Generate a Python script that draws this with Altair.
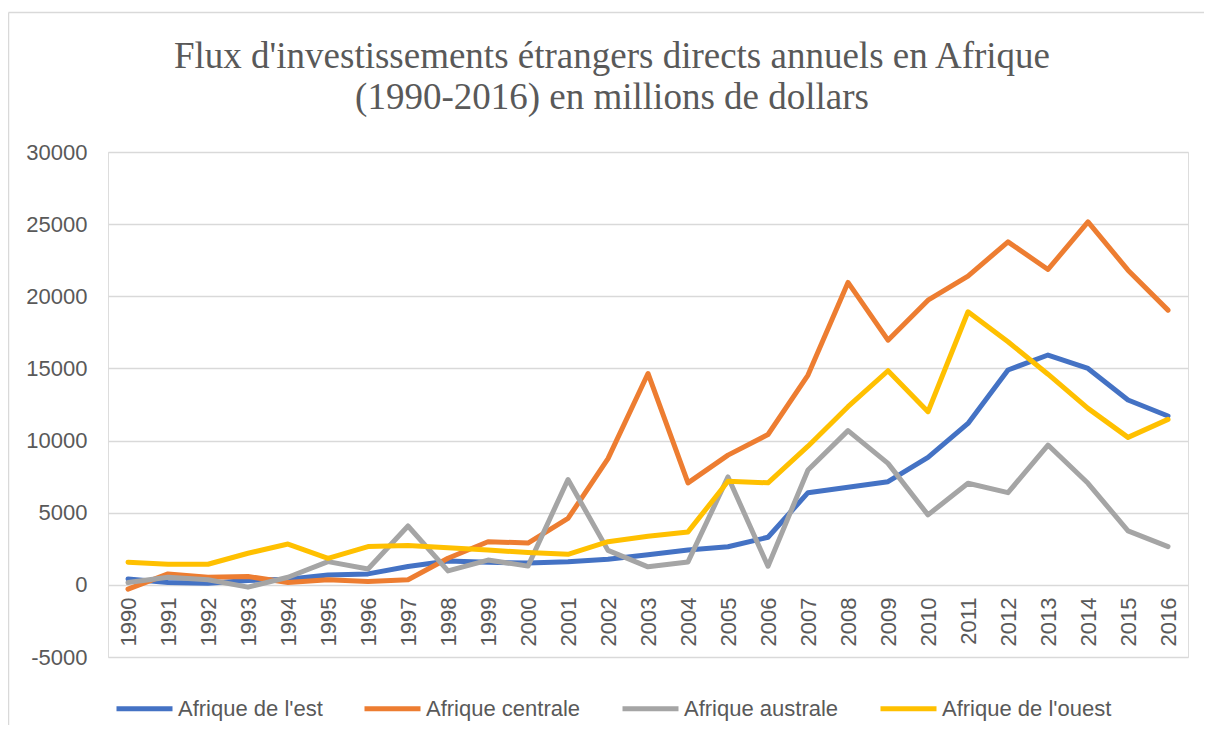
import altair as alt
import pandas as pd

years = ["1990", "1991", "1992", "1993", "1994", "1995", "1996", "1997", "1998",
         "1999", "2000", "2001", "2002", "2003", "2004", "2005", "2006", "2007",
         "2008", "2009", "2010", "2011", "2012", "2013", "2014", "2015", "2016"]

afrique_est = [410, 160, 115, 300, 390, 690, 760, 1270, 1660, 1560, 1510, 1600, 1770,
               2080, 2420, 2640, 3300, 6390, 6760, 7150, 8840, 11190, 14890, 15930,
               15000, 12810, 11700]
afrique_centrale = [-300, 760, 530, 580, 160, 350, 230, 350, 1840, 2990, 2900, 4600,
                    8750, 14650, 7070, 8990, 10420, 14540, 20960, 16960, 19730, 21400,
                    23770, 21860, 25160, 21810, 19040]
afrique_australe = [160, 530, 350, -160, 530, 1610, 1100, 4080, 970, 1720, 1300, 7300,
                    2390, 1250, 1590, 7480, 1290, 7960, 10690, 8420, 4850, 7040, 6390,
                    9690, 7040, 3740, 2650]
afrique_ouest = [1570, 1430, 1430, 2190, 2830, 1840, 2650, 2720, 2580, 2410, 2240, 2120,
                 2990, 3370, 3670, 7180, 7070, 9610, 12350, 14840, 12000, 18930, 16850,
                 14600, 12230, 10220, 11470]

series_names = ["Afrique de l'est", "Afrique centrale", "Afrique australe", "Afrique de l'ouest"]
series_values = [afrique_est, afrique_centrale, afrique_australe, afrique_ouest]
series_colors = ["#4472C4", "#ED7D31", "#A5A5A5", "#FFC000"]

y_ticks = [-5000, 0, 5000, 10000, 15000, 20000, 25000, 30000]

title_lines = ["Flux d'investissements étrangers directs annuels en Afrique",
               "(1990-2016) en millions de dollars"]

rows = []
for name, vals in zip(series_names, series_values):
    for yr, v in zip(years, vals):
        rows.append({"Année": yr, "Valeur": v, "Région": name})
df = pd.DataFrame(rows)

W, H = 1080, 505
label_font = "Liberation Sans"
grey_text = "#595959"

lines = alt.Chart(df).mark_line(strokeWidth=5, strokeCap="round", strokeJoin="round").encode(
    x=alt.X("Année:O", sort=years, title=None,
            axis=alt.Axis(labelAngle=270, labelFontSize=22, labelFont=label_font,
                          labelColor=grey_text, ticks=False, domain=False, grid=False,
                          offset=-72, labelPadding=12)),
    y=alt.Y("Valeur:Q", title=None,
            scale=alt.Scale(domain=[-5000, 30000], nice=False, zero=False),
            axis=alt.Axis(values=y_ticks, labelFontSize=22, labelFont=label_font,
                          labelColor=grey_text, ticks=False, domain=False,
                          gridColor="#D9D9D9", gridWidth=1.6, labelPadding=21,
                          labelExpr="'' + datum.value")),
    color=alt.Color("Région:N", sort=series_names,
                    scale=alt.Scale(domain=series_names, range=series_colors),
                    legend=alt.Legend(title=None, orient="none", direction="horizontal",
                                      legendX=6, legendY=526,
                                      symbolType="stroke", symbolStrokeWidth=5,
                                      symbolSize=3136, labelFontSize=22,
                                      labelFont=label_font, labelColor=grey_text,
                                      labelOffset=3, columnPadding=31, labelLimit=400)),
    order=alt.Order("Année:O"),
)

frame_df = pd.DataFrame({"f": [0]})
frame_top = alt.Chart(frame_df).mark_rule(stroke="#D9D9D9", strokeWidth=1.5).encode(
    x=alt.value(-99.5), x2=alt.value(1096), y=alt.value(-139.5)
)
frame_left = alt.Chart(frame_df).mark_rule(stroke="#D9D9D9", strokeWidth=1.5).encode(
    x=alt.value(-99.5), y=alt.value(-139.5), y2=alt.value(573)
)

chart = alt.layer(frame_top, frame_left, lines).properties(
    width=W, height=H,
    title=alt.TitleParams(text=title_lines, font="Liberation Serif", fontSize=37,
                          fontWeight="normal", color=grey_text, anchor="middle",
                          dx=-36, offset=-105, lineHeight=41),
    autosize=alt.AutoSizeParams(type="none"),
    padding={"left": 100, "top": 144, "right": 16, "bottom": 68},
).configure_view(stroke=None).configure(background="white")

chart.save("out.html", embed_options={"renderer": "svg", "actions": False})
